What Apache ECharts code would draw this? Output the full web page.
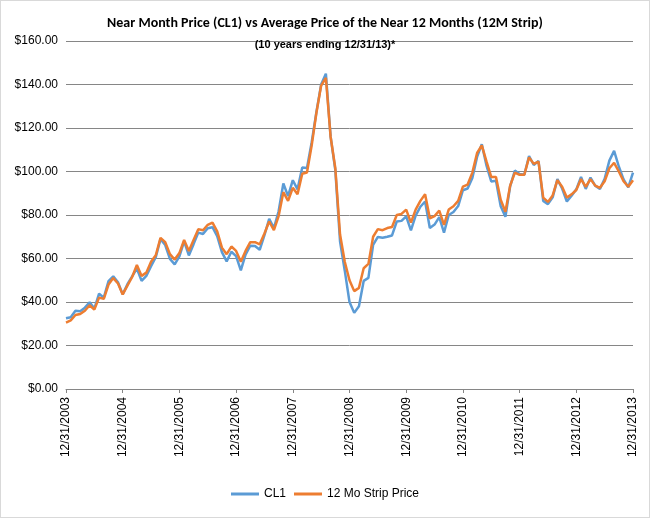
<!DOCTYPE html>
<html>
<head>
<meta charset="utf-8">
<script src="https://cdn.jsdelivr.net/npm/echarts@6/dist/echarts.min.js"></script>
<style>
html,body{margin:0;padding:0;background:#fff;}
#chart{width:648px;height:516px;border:1px solid #d9d9d9;}
</style>
</head>
<body>
<div id="chart"></div>
<script>
// monthly points, 12/31/2003 .. 12/31/2013
var cl1 = [
  32.5,
  33.0, 36.0, 35.8, 37.4, 39.9, 37.0, 43.8, 42.0, 49.6, 51.8, 49.1, 43.5,
  48.2, 51.8, 55.4, 49.7, 52.0, 56.5, 60.6, 68.9, 66.2, 59.8, 57.3, 61.0,
  67.9, 61.4, 66.6, 71.9, 71.3, 73.9, 74.4, 70.3, 62.9, 58.7, 63.1, 61.1,
  54.5, 61.8, 65.9, 65.7, 64.0, 70.7, 78.2, 74.0, 81.7, 94.5, 88.7, 96.0,
  91.8, 101.8, 101.6, 113.5, 127.4, 140.0, 145.0, 116.0, 100.6, 67.8, 54.4, 40.0,
  35.0, 38.0, 49.7, 51.1, 66.3, 69.9, 69.5, 70.0, 70.6, 77.0, 77.3, 79.4,
  72.9, 79.7, 83.8, 86.2, 74.0, 75.6, 79.0, 71.9, 80.0, 81.4, 84.1, 91.4,
  92.2, 97.0, 106.7, 112.5, 102.7, 95.4, 95.7, 84.0, 79.2, 93.2, 100.4, 98.8,
  98.5, 107.1, 103.0, 104.9, 86.5, 85.0, 88.1, 96.5, 92.2, 86.2, 88.9, 91.8,
  97.5, 92.0, 97.2, 93.5, 92.0, 96.6, 105.0, 109.5, 102.3, 96.4, 92.7, 99.5
];
var strip = [
  30.5,
  31.5, 34.0, 34.5, 36.0, 38.5, 36.5, 42.0, 41.5, 48.0, 51.0, 48.5, 43.5,
  47.5, 51.5, 57.0, 52.0, 53.5, 58.5, 61.5, 69.5, 67.5, 62.0, 59.5, 62.5,
  68.5, 63.5, 68.5, 73.5, 73.0, 75.5, 76.5, 72.5, 65.0, 62.0, 65.5, 63.5,
  58.5, 63.5, 67.5, 67.5, 66.5, 71.5, 77.0, 73.0, 79.5, 90.5, 86.5, 92.5,
  89.5, 99.0, 99.5, 112.0, 127.0, 139.5, 143.0, 116.0, 101.5, 71.0, 58.5, 50.0,
  45.0, 46.5, 55.5, 57.5, 70.0, 73.5, 73.0, 74.0, 74.5, 80.0, 80.5, 82.5,
  76.5, 82.5, 86.5, 89.5, 78.5, 79.5, 82.0, 75.5, 82.5, 84.0, 86.5, 93.0,
  94.0, 99.5, 108.5, 112.0, 104.5, 97.5, 97.5, 87.0, 81.5, 93.5, 99.5, 98.5,
  98.5, 106.5, 103.5, 104.5, 88.0, 86.0, 89.0, 96.0, 93.0, 88.0, 89.5, 91.5,
  96.5, 93.0, 96.5, 93.5, 92.5, 95.5, 101.5, 104.0, 100.0, 95.5, 93.0, 96.0
];
var years = [2003, 2004, 2005, 2006, 2007, 2008, 2009, 2010, 2011, 2012, 2013];

var cats = [];
for (var i = 0; i < cl1.length; i++) {
  if (i % 12 == 0) cats.push('12/31/' + years[i / 12]);
  else cats.push((i % 12) + '/' + years[Math.floor(i / 12) + 1]);
}

var chart = echarts.init(document.getElementById('chart'));
chart.setOption({
  animation: false,
  title: [
    {text: 'Near Month Price (CL1) vs Average Price of the Near 12 Months (12M Strip)', left: 'center', top: 10,
     textStyle: {fontSize: 14, fontWeight: 'bold', color: '#000', fontFamily: 'Calibri, Carlito, Liberation Sans, sans-serif'}},
    {text: '(10 years ending 12/31/13)*', left: 'center', top: 33,
     textStyle: {fontSize: 11, fontWeight: 'bold', color: '#000', fontFamily: 'Liberation Sans, sans-serif'}}
  ],
  legend: {
    bottom: 12, left: 'center', itemWidth: 28, itemHeight: 3, icon: 'rect',
    textStyle: {fontSize: 12, color: '#000'},
    data: ['CL1', '12 Mo Strip Price']
  },
  grid: {left: 65, right: 16, top: 40, bottom: 128},
  xAxis: {
    type: 'category', data: cats, boundaryGap: false,
    axisLine: {lineStyle: {color: '#868686'}},
    axisTick: {interval: 11, length: 4, lineStyle: {color: '#868686'}},
    axisLabel: {interval: 11, rotate: 90, color: '#000', fontSize: 12, margin: 8}
  },
  yAxis: {
    type: 'value', min: 0, max: 160, interval: 20,
    axisLine: {show: false}, axisTick: {show: false},
    axisLabel: {color: '#000', fontSize: 12, formatter: function (v) { return '$' + v.toFixed(2); }},
    splitLine: {lineStyle: {color: '#868686'}}
  },
  series: [
    {name: 'CL1', type: 'line', data: cl1, showSymbol: false, smooth: false,
     lineStyle: {color: '#5B9BD5', width: 2.5}, itemStyle: {color: '#5B9BD5'}},
    {name: '12 Mo Strip Price', type: 'line', data: strip, showSymbol: false,
     lineStyle: {color: '#ED7D31', width: 2.5}, itemStyle: {color: '#ED7D31'}}
  ]
});
</script>
</body>
</html>
